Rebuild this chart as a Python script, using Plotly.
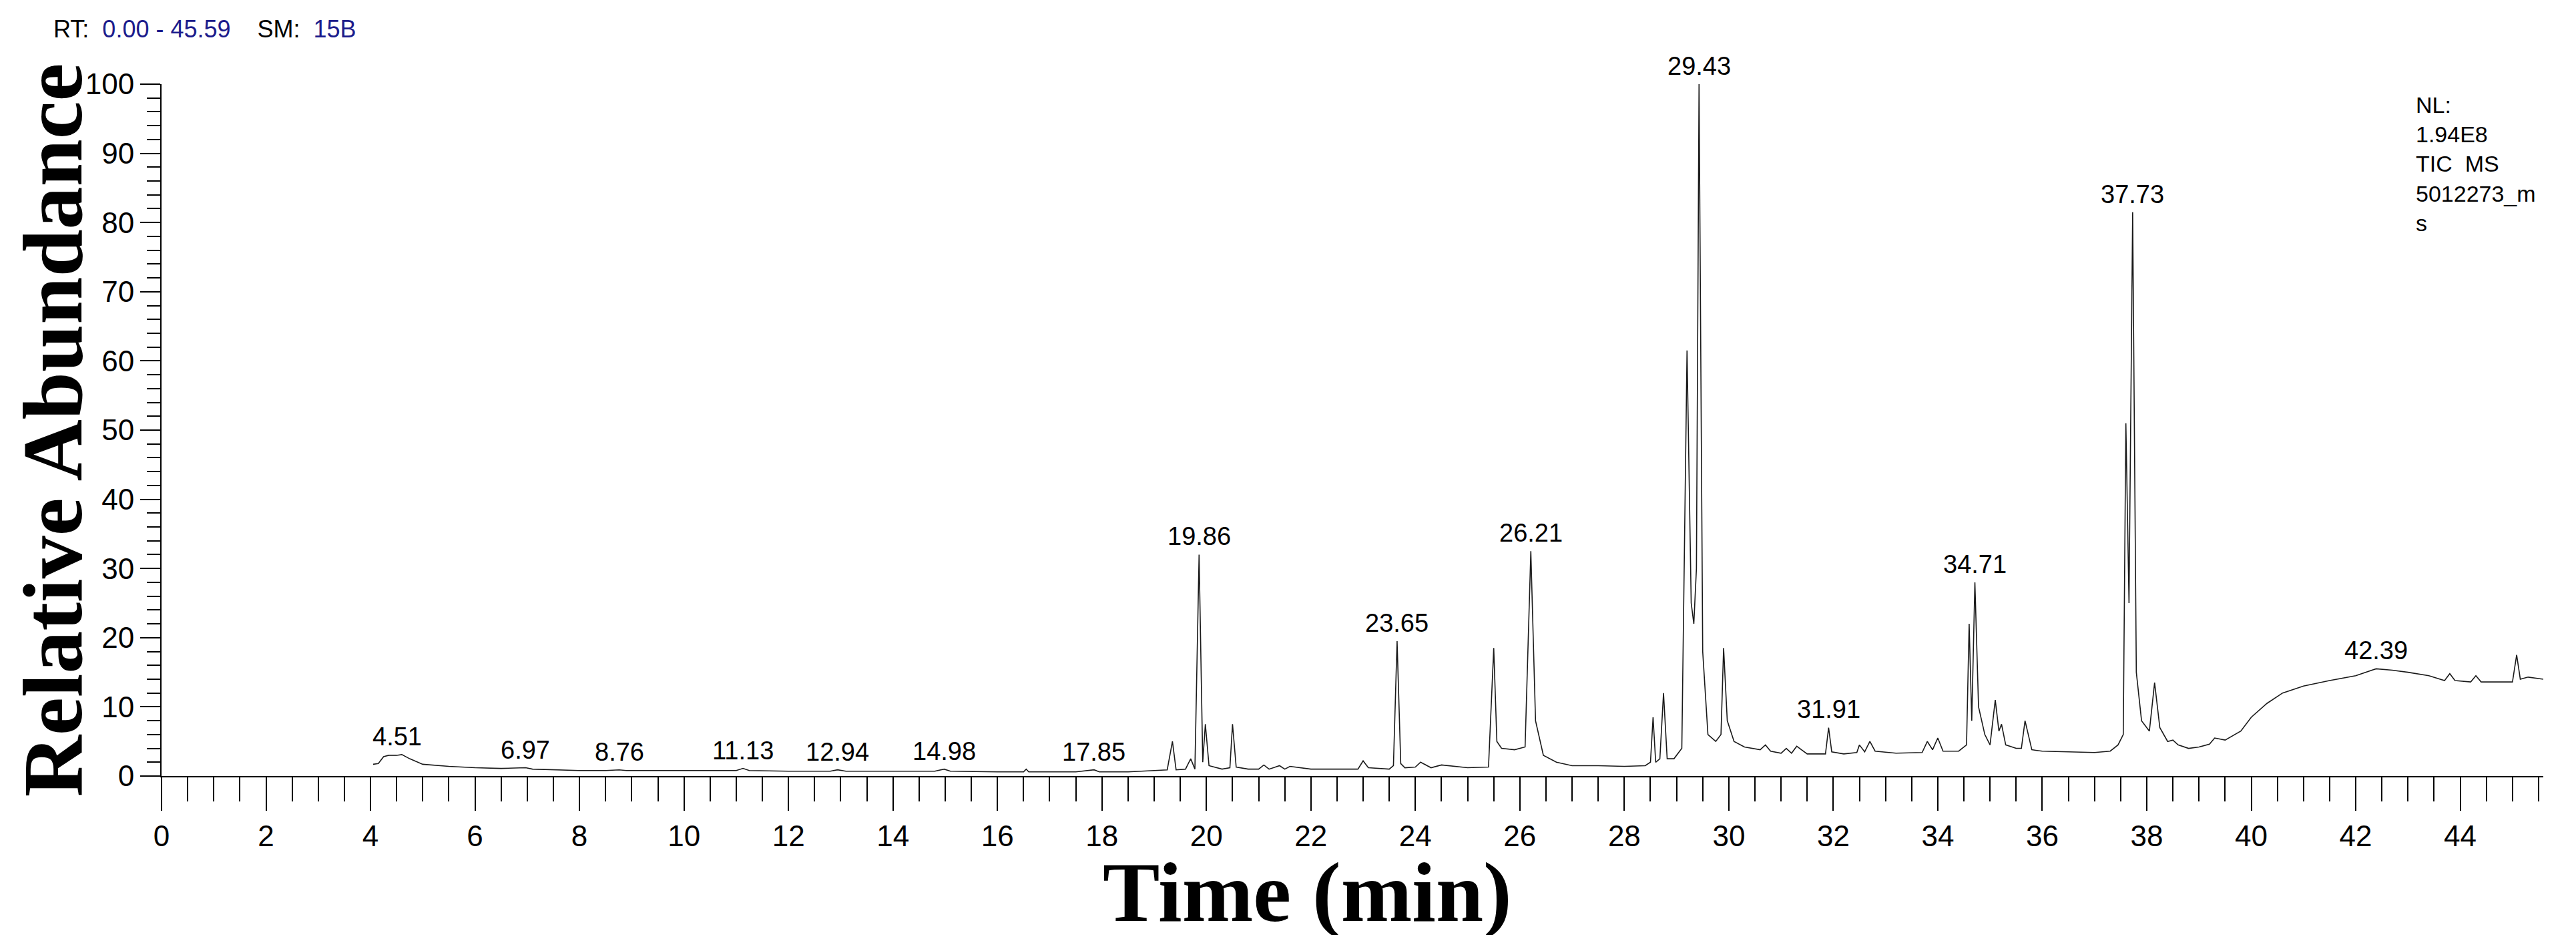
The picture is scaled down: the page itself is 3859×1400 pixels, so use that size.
import plotly.graph_objects as go

# chromatogram points (time in min, relative abundance %)
time = [4.05, 4.15, 4.25, 4.35, 4.5, 4.6, 4.75, 5.0, 5.5, 6.0, 6.5, 6.97, 7.1, 7.5, 8.0, 8.5, 8.76, 8.9, 9.5, 10.0,
        10.5, 11.0, 11.13, 11.25, 12.0, 12.8, 12.94, 13.1, 14.0, 14.8, 14.98, 15.1, 16.0, 16.5, 16.55, 16.6, 17.5, 17.85, 17.95,
        18.5, 19.0, 19.25, 19.35, 19.42, 19.6, 19.7, 19.78, 19.86, 19.93, 19.98, 20.05, 20.3, 20.45, 20.5, 20.57, 20.8,
        21.0, 21.1, 21.2, 21.4, 21.5, 21.6, 22.0, 22.9, 23.0, 23.1, 23.5, 23.58, 23.65, 23.72, 23.8, 24.0, 24.1, 24.3, 24.5,
        25.0, 25.4, 25.5, 25.56, 25.65, 25.9, 26.1, 26.21, 26.3, 26.45, 26.7, 27.0, 27.5, 28.0, 28.4, 28.5, 28.55, 28.6,
        28.68, 28.75, 28.82, 28.95, 29.1, 29.2, 29.28, 29.33, 29.38, 29.43, 29.5, 29.6, 29.75, 29.85, 29.9, 29.97, 30.1,
        30.3, 30.6, 30.7, 30.8, 31.0, 31.1, 31.2, 31.3, 31.5, 31.85, 31.91, 31.97, 32.2, 32.45, 32.5, 32.6, 32.7, 32.8,
        33.2, 33.7, 33.8, 33.9, 34.0, 34.1, 34.4, 34.55, 34.6, 34.65, 34.71, 34.78, 34.9, 35.0, 35.1, 35.17, 35.22, 35.3,
        35.5, 35.6, 35.67, 35.8, 36.0, 36.5, 37.0, 37.3, 37.45, 37.55, 37.6, 37.66, 37.73, 37.8, 37.9, 38.05, 38.15, 38.25,
        38.4, 38.5, 38.6, 38.8, 39.0, 39.2, 39.3, 39.5, 39.8, 40.0, 40.3, 40.6, 41.0, 41.5, 42.0, 42.39, 42.7, 43.0, 43.4,
        43.7, 43.8, 43.9, 44.2, 44.3, 44.4, 44.7, 45.0, 45.08, 45.15, 45.3, 45.59]
abundance = [1.7, 1.8, 2.8, 3.0, 3.0, 3.1, 2.5, 1.7, 1.4, 1.2, 1.1, 1.2, 1.0, 0.9, 0.8, 0.8, 0.9, 0.8, 0.8, 0.8,
             0.8, 0.8, 1.1, 0.8, 0.7, 0.7, 0.9, 0.7, 0.7, 0.7, 1.0, 0.7, 0.6, 0.6, 1.0, 0.6, 0.6, 0.9, 0.6,
             0.6, 0.8, 0.9, 5.0, 0.9, 1.0, 2.5, 1.0, 32.0, 2.0, 7.5, 1.5, 1.0, 1.2, 7.5, 1.3, 1.0,
             1.0, 1.6, 1.0, 1.5, 1.0, 1.4, 1.0, 1.0, 2.2, 1.2, 1.0, 1.5, 19.5, 1.8, 1.2, 1.3, 2.0, 1.2, 1.6,
             1.2, 1.3, 18.5, 5.0, 4.0, 3.8, 4.2, 32.5, 8.0, 3.0, 2.0, 1.5, 1.5, 1.4, 1.5, 2.0, 8.5, 2.0,
             2.5, 12.0, 2.5, 2.5, 4.0, 61.5, 25.0, 22.0, 30.0, 100.0, 18.0, 6.0, 5.0, 6.0, 18.5, 8.0, 5.0,
             4.2, 3.8, 4.5, 3.6, 3.3, 4.0, 3.3, 4.3, 3.2, 3.2, 7.0, 3.5, 3.2, 3.4, 4.5, 3.5, 5.0, 3.6,
             3.3, 3.4, 5.0, 3.8, 5.5, 3.6, 3.6, 4.5, 22.0, 8.0, 28.0, 10.0, 6.0, 4.5, 11.0, 6.5, 7.5, 4.5,
             4.0, 4.0, 8.0, 3.8, 3.6, 3.5, 3.4, 3.6, 4.5, 6.0, 51.0, 25.0, 81.5, 15.0, 8.0, 6.5, 13.5, 7.0,
             5.0, 5.2, 4.5, 4.0, 4.2, 4.6, 5.5, 5.2, 6.5, 8.5, 10.5, 12.0, 13.0, 13.8, 14.5, 15.5, 15.3, 15.0, 14.5,
             13.8, 14.8, 13.8, 13.6, 14.5, 13.6, 13.6, 13.6, 17.5, 14.0, 14.3, 14.0]

label_rt = [4.51, 6.97, 8.76, 11.13, 12.94, 14.98, 17.85, 19.86, 23.65, 26.21, 29.43, 31.91, 34.71, 37.73, 42.39]
label_y = [3.1, 1.2, 0.9, 1.1, 0.9, 1.0, 0.9, 32.0, 19.5, 32.5, 100.0, 7.0, 28.0, 81.5, 15.5]

xticks = list(range(0, 46, 2))
yticks = list(range(0, 101, 10))

fig = go.Figure()
fig.add_trace(go.Scatter(x=time, y=abundance, mode="lines",
                         line=dict(color="#1a1a1a", width=1.6), showlegend=False))

for rt, y in zip(label_rt, label_y):
    fig.add_annotation(x=rt, y=y, text=f"{rt:.2f}", showarrow=False, yanchor="bottom", yshift=4,
                       font=dict(family="Liberation Sans", size=38, color="black"))

tickfont = dict(family="Liberation Sans Narrow, Liberation Sans", size=44, color="black")
fig.update_xaxes(range=[0, 45.59], tickvals=xticks, ticks="outside", ticklen=50, tickwidth=2,
                 tickcolor="black", showline=True, linecolor="black", linewidth=2, showgrid=False,
                 zeroline=False, tickfont=tickfont,
                 minor=dict(dtick=0.5, ticks="outside", ticklen=36, tickwidth=2, tickcolor="black"))
fig.update_yaxes(range=[0, 100], tickvals=yticks, ticks="outside", ticklen=30, tickwidth=2,
                 tickcolor="black", showline=True, linecolor="black", linewidth=2, showgrid=False,
                 zeroline=False, tickfont=tickfont,
                 minor=dict(dtick=2, ticks="outside", ticklen=20, tickwidth=2, tickcolor="black"),
                 title=dict(text="<b>Relative Abundance</b>", standoff=8,
                            font=dict(family="Liberation Serif", size=128, color="black")))

fig.add_annotation(xref="paper", yref="paper", x=0.481, y=-0.168, xanchor="center", yanchor="middle",
                   showarrow=False, text="<b>Time (min)</b>",
                   font=dict(family="Liberation Serif", size=128, color="black"))
fig.add_annotation(xref="paper", yref="paper", x=-0.046, y=1.08, xanchor="left", yanchor="middle",
                   showarrow=False, align="left",
                   text="RT:  <span style='color:#1c1c8c'>0.00 - 45.59</span>    SM:  <span style='color:#1c1c8c'>15B</span>",
                   font=dict(family="Liberation Sans Narrow, Liberation Sans", size=36, color="black"))
fig.add_annotation(xref="paper", yref="paper", x=0.946, y=0.99, xanchor="left", yanchor="top",
                   showarrow=False, align="left",
                   text="NL:<br>1.94E8<br>TIC  MS<br>5012273_m<br>s",
                   font=dict(family="Liberation Sans", size=34, color="black"))

fig.update_layout(width=3859, height=1400, plot_bgcolor="white", paper_bgcolor="white",
                  margin=dict(l=234, r=57, t=118, b=246))
fig.write_html("out.html")
